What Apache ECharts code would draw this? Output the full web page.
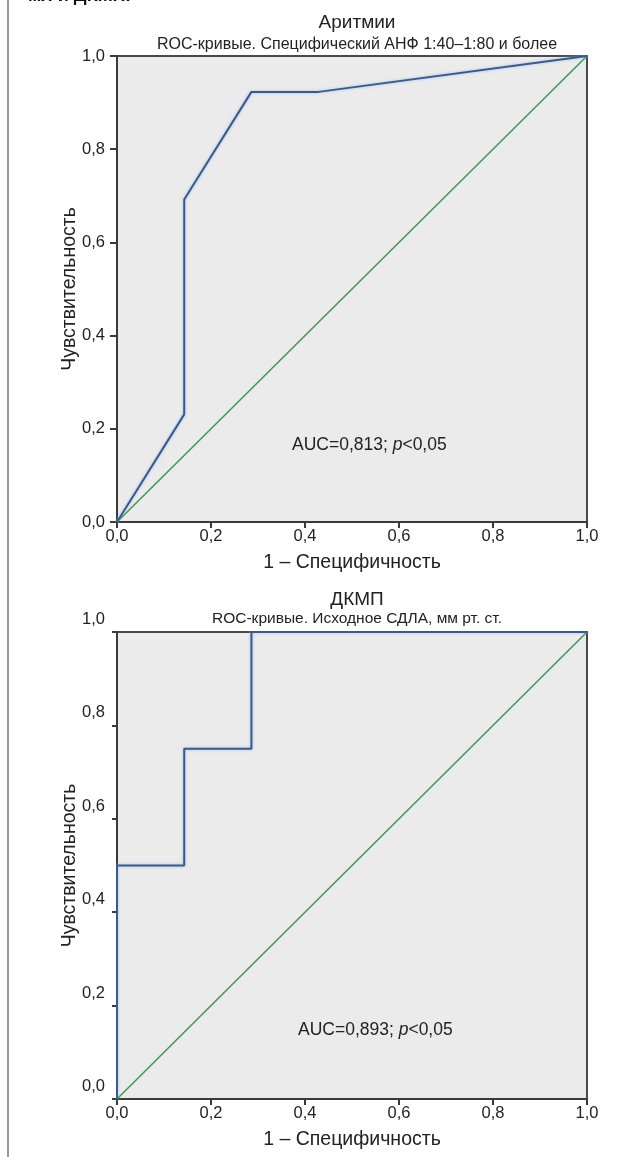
<!DOCTYPE html>
<html>
<head>
<meta charset="utf-8">
<script src="https://cdn.jsdelivr.net/npm/echarts@6/dist/echarts.min.js"></script>
<style>
  html, body { margin: 0; padding: 0; background: #fff; }
  #rocChart { width: 631px; height: 1157px; }
</style>
</head>
<body>
<div id="rocChart"></div>
<script>
/* ROC-кривые: аритмии (сверху) и ДКМП (снизу) */
var tickLabels = ['0,0', '0,2', '0,4', '0,6', '0,8', '1,0'];

// аритмии: 1 - специфичность / чувствительность
var arrFpr = [0, 0.143, 0.143, 0.286, 0.429, 1];
var arrTpr = [0, 0.231, 0.692, 0.923, 0.923, 1];

// ДКМП
var dkmpFpr = [0, 0, 0.143, 0.143, 0.286, 0.286, 1];
var dkmpTpr = [0, 0.5, 0.5, 0.75, 0.75, 1, 1];

var refLine = [[0, 0], [1, 1]];

var titles = ['Аритмии', 'ДКМП'];
var subtitles = ['ROC-кривые. Специфический АНФ 1:40–1:80 и более', 'ROC-кривые. Исходное СДЛА, мм рт. ст.'];
var aucTexts = ['0,813', '0,893'];

function zip(xs, ys) {
    var arr = [];
    for (var i = 0; i < xs.length; i++) {
        arr.push([xs[i], ys[i]]);
    }
    return arr;
}

function fmt(v) {
    return tickLabels[Math.round(v * 5)];
}

var font = 'Liberation Sans, Arial, sans-serif';

function makeX(idx) {
    return {
        gridIndex: idx,
        type: 'value', min: 0, max: 1, interval: 0.2,
        name: '1 – Специфичность',
        nameLocation: 'middle',
        nameGap: 31,
        nameMoveOverlap: false,
        nameTextStyle: { fontSize: 19.5, color: '#222', fontFamily: font },
        axisLine: { onZero: false, lineStyle: { color: '#3a3a3a', width: 2 } },
        axisTick: { show: true, length: 6, lineStyle: { color: '#3a3a3a', width: 2 } },
        axisLabel: { formatter: fmt, fontSize: 16.5, color: '#222', fontFamily: font, margin: 6 },
        splitLine: { show: false }
    };
}

function makeY(idx, shiftUp) {
    return {
        gridIndex: idx,
        type: 'value', min: 0, max: 1, interval: 0.2,
        name: 'Чувствительность',
        nameLocation: 'middle',
        nameGap: 37,
        nameMoveOverlap: false,
        nameTextStyle: { fontSize: 19.5, color: '#222', fontFamily: font },
        axisLine: { onZero: false, lineStyle: { color: '#3a3a3a', width: 2 } },
        axisTick: { show: true, length: shiftUp ? 5 : 7, lineStyle: { color: '#3a3a3a', width: 2 } },
        axisLabel: shiftUp ? {
            formatter: fmt, fontSize: 16.5, color: '#222', fontFamily: font, margin: 12,
            verticalAlign: 'bottom', padding: [0, 0, 4, 0]
        } : { formatter: fmt, fontSize: 16.5, color: '#222', fontFamily: font, margin: 12 },
        splitLine: { show: false }
    };
}

function curve(idx, data) {
    return {
        type: 'line', xAxisIndex: idx, yAxisIndex: idx,
        data: data, symbol: 'none', silent: true, z: 4,
        lineStyle: { color: '#375b91', width: 2, shadowColor: 'rgba(150,180,225,0.8)', shadowBlur: 3 }
    };
}

function diag(idx) {
    return {
        type: 'line', xAxisIndex: idx, yAxisIndex: idx,
        data: refLine, symbol: 'none', silent: true, z: 3,
        lineStyle: { color: '#43995a', width: 1.6 }
    };
}

function aucText(left, top, val) {
    return {
        type: 'text', left: left, top: top,
        style: {
            text: '{n|AUC=' + val + '; }{i|p}{n|<0,05}',
            rich: {
                n: { fontSize: 17.5, fill: '#222', fontFamily: font },
                i: { fontSize: 17.5, fill: '#222', fontFamily: font, fontStyle: 'italic' }
            }
        }
    };
}

var chart = echarts.init(document.getElementById('rocChart'));
var option = {
    backgroundColor: '#fff',
    animation: false,
    title: [
        { text: titles[0], left: 352, top: 8, textAlign: 'center',
          textStyle: { fontSize: 19, fontWeight: 'normal', color: '#222', fontFamily: font } },
        { text: subtitles[0], left: 352, top: 32, textAlign: 'center',
          textStyle: { fontSize: 16, fontWeight: 'normal', color: '#222', fontFamily: font } },
        { text: titles[1], left: 352, top: 585, textAlign: 'center',
          textStyle: { fontSize: 19, fontWeight: 'normal', color: '#222', fontFamily: font } },
        { text: subtitles[1], left: 352, top: 606, textAlign: 'center',
          textStyle: { fontSize: 15.5, fontWeight: 'normal', color: '#222', fontFamily: font } }
    ],
    grid: [
        { left: 117, top: 56, width: 470, height: 466, show: true,
          backgroundColor: '#ebebeb', borderColor: '#4a4a4a', borderWidth: 2 },
        { left: 117, top: 632, width: 470, height: 467, show: true,
          backgroundColor: '#ebebeb', borderColor: '#4a4a4a', borderWidth: 2 }
    ],
    xAxis: [makeX(0), makeX(1)],
    yAxis: [makeY(0, false), makeY(1, true)],
    series: [
        diag(0), curve(0, zip(arrFpr, arrTpr)),
        diag(1), curve(1, zip(dkmpFpr, dkmpTpr))
    ],
    graphic: [
        // левая рамка страницы и обрезанная строка сверху
        { type: 'rect', shape: { x: 7, y: 0, width: 2, height: 1157 }, style: { fill: '#9a9a9a' } },
        { type: 'text', left: 28, top: -13,
          style: { text: 'мл и ДКМП.', fontSize: 18, fontWeight: 'bold', fill: '#111', fontFamily: font } },
        aucText(292, 436, aucTexts[0]),
        aucText(298, 1021, aucTexts[1])
    ]
};
chart.setOption(option);
</script>
</body>
</html>
